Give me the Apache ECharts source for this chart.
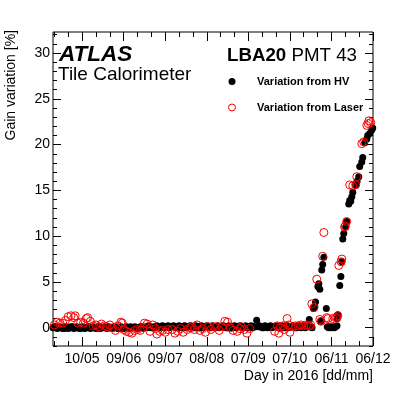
<!DOCTYPE html>
<html>
<head>
    <meta charset="utf-8">
    <title>ECharts</title>
    <script src="https://cdn.jsdelivr.net/npm/echarts@6/dist/echarts.min.js"></script>
</head>
<body style="margin:0">
<div id="main" style="width: 411px;height:394px;"></div>
<script type="text/javascript">
    // x = day of year 2016 (10/05 -> 131)
    var xTickDays = [131, 161, 191, 221, 251, 281, 311, 341];
    var xTickLabels = ['10/05', '09/06', '09/07', '08/08', '07/09', '07/10', '06/11', '06/12'];
    var yTickValues = [0, 5, 10, 15, 20, 25, 30];

    // gain variation from HV [%]
    var hvPoints = [
        [110,0.0],[111,0.1],[112,0.1],[113,-0.1],[114,0.0],[115,0.1],[116,0.0],[117,-0.1],[118,-0.1],[119,0.1],
        [120,0.0],[121,-0.1],[122,0.0],[123,0.1],[124,0.1],[125,-0.1],[126,0.0],[127,0.1],[128,0.0],[129,-0.1],
        [130,-0.1],[131,0.1],[132,0.0],[133,-0.1],[134,0.0],[135,0.1],[136,0.1],[137,-0.1],[138,0.0],[139,0.1],
        [140,0.0],[141,-0.1],[142,0.0],[143,0.1],[144,-0.1],[145,0.0],[146,0.0],[147,0.1],[148,0.0],[149,-0.1],
        [150,0.1],[151,0.0],[152,0.0],[153,-0.1],[154,0.0],[155,0.1],[156,0.0],[157,-0.1],[158,-0.1],[159,0.1],
        [160,0.0],[161,-0.1],[162,0.0],[163,0.1],[164,0.0],[165,-0.1],[166,0.1],[167,0.0],[168,0.0],[169,0.1],
        [170,0.0],[171,-0.1],[172,0.0],[173,0.1],[174,0.1],[175,0.0],[176,0.0],[177,0.1],[178,0.0],[179,0.2],
        [180,0.1],[181,0.0],[182,0.0],[183,0.1],[184,0.0],[185,0.2],[186,0.1],[187,0.0],[188,0.1],[189,0.2],
        [190,0.0],[191,0.1],[192,0.1],[193,0.2],[194,0.0],[195,0.1],[196,0.1],[197,0.2],[198,0.1],[199,0.0],
        [200,0.0],[201,0.2],[202,0.1],[203,0.0],[204,0.1],[205,0.2],[206,0.0],[207,0.1],[208,0.1],[209,0.2],
        [210,0.1],[211,0.0],[212,0.0],[213,0.2],[214,0.1],[215,0.0],[216,0.1],[217,0.2],[218,0.0],[219,0.1],
        [220,0.1],[221,0.2],[222,0.1],[223,0.0],[224,0.0],[225,0.2],[226,0.1],[227,0.0],[228,0.1],[229,0.2],
        [230,0.0],[231,0.1],[232,0.1],[233,0.2],[234,0.1],[235,0.0],[236,0.0],[237,0.2],[238,0.1],[239,0.0],
        [240,0.1],[241,0.2],[242,0.0],[243,0.1],[244,0.1],[245,0.2],[246,0.1],[247,0.0],[248,0.0],[249,0.2],
        [250,0.1],[251,0.0],[252,0.1],[253,0.2],[254,0.0],[255,0.1],[256,0.1],[257,0.8],[258,0.1],[259,0.2],
        [260,0.1],[261,0.0],[262,0.0],[263,0.2],[264,0.1],[265,0.0],[266,0.1],[267,0.2],[268,0.0],[269,0.1],
        [270,0.1],[271,0.2],[272,0.1],[273,0.0],[274,0.0],[275,0.2],[276,0.1],[277,0.0],[278,0.1],[279,0.2],
        [280,0.0],[281,0.1],[282,0.1],[283,0.2],[284,0.1],[285,0.0],[286,0.0],[287,0.2],[288,0.1],[289,0.0],
        [290,0.1],[291,0.2],[292,0.0],[293,0.1],[294,0.1],[295,0.9],[296,0.1],[297,0.0],
        [298,2.1],[299,2.3],[299.5,2.8],
        [301.2,4.5],[301.9,4.8],[302.6,4.2],[303.3,0.7],[304,6.3],[304.7,6.9],[305.5,7.7],[307.3,2.1],
        [308,0.1],[309,0.0],[310,0.1],[311,0.0],[312,0.1],[313,0.0],[314,0.1],[315,0.2],[315.2,1.0],[315.6,1.4],
        [317,4.6],[317.8,5.6],[318.5,7.2],[319.2,9.7],[319.9,10.3],[321.3,11.0],[322,11.6],[323.5,13.5],
        [324.2,13.9],[324.9,13.8],[325.7,14.3],[326.4,14.8],[328.5,15.6],[329.5,16.0],[330.7,16.5],[331.4,17.6],
        [332.9,18.1],[333.6,18.6],[335,20.2],[336.5,20.6],[337.2,21.0],[338.6,21.2],[340.1,21.6],[340.8,21.8]
    ];

    // gain variation from Laser [%]
    var laserPoints = [
        [111,0.3],[113,0.6],[115,0.5],[117,0.5],[119,0.8],[121,1.2],[123,1.3],[125,1.1],[126,1.3],[128,0.5],
        [130,0.6],[132,0.5],[134,1.0],[135,1.1],[137,0.7],[139,0.2],[141,0.3],[143,0.1],[145,0.4],[147,0.2],
        [149,0.1],[151,0.3],[153,0.0],[155,-0.3],[157,0.2],[159,0.6],[160,0.5],[161,-0.2],[163,-0.4],[165,-0.5],
        [167,-0.6],[169,-0.3],[171,-0.2],[173,-0.3],[175,0.0],[176,0.5],[178,0.4],[180,-0.4],[182,0.3],[184,-0.1],
        [185,-0.7],[187,-0.4],[189,-0.3],[191,-0.5],[193,-0.2],[196,-0.2],[198,-0.6],[200,-0.4],[202,-0.1],[204,-0.5],
        [207,-0.2],[209,0.0],[210,0.1],[212,-0.2],[214,0.3],[216,-0.3],[218,-0.1],[220,-0.5],[222,0.1],[224,-0.2],
        [226,0.1],[228,0.1],[230,-0.3],[232,0.1],[234,0.7],[236,0.6],[238,0.0],[240,-0.3],[243,-0.4],[245,-0.1],
        [246,0.1],[248,-0.2],[250,-0.6],[252,-0.1],
        [270,-0.4],[272,0.2],[273,-0.6],[274,0.0],[276,0.2],[277,-0.2],[279,1.0],[280,0.3],[281,-0.5],[283,0.1],
        [285,0.2],[287,0.2],[289,0.3],[291,0.2],[293,0.3],[295,0.2],[296,0.3],
        [296.8,2.6],[298.3,2.2],[300.4,5.3],[302.6,0.9],[303.5,0.7],[304.7,7.8],[305.5,10.4],[307.6,1.1],
        [308.5,1.0],[312,1.0],[314,1.1],[314.9,1.1],[315.6,1.3],[316.3,6.8],[318,7.2],[318.5,7.5],
        [320.5,11.0],[321,11.1],[322,11.6],[324.2,15.6],[326.4,15.5],[328.5,15.6],[329.3,16.5],
        [332.9,20.1],[334.3,20.3],[336.5,22.1],[337.5,22.3],[338,22.6],[339.4,22.4]
    ];

    var xMinorTicks = [];
    for (var d = 111; d <= 341; d += 10) xMinorTicks.push(d);
    var yMinorTicks = [];
    for (var v = -2; v <= 32; v++) yMinorTicks.push(v);

    var FONT = 'Liberation Sans, Arial, Helvetica, sans-serif';

    function xAxisOf(pos, ticks, len, withLabels) {
        return {
            type: 'value', position: pos, min: 110, max: 341,
            axisLine: {show: false, onZero: false}, splitLine: {show: false},
            axisTick: {inside: true, length: len, customValues: ticks, lineStyle: {color: '#000'}},
            axisLabel: withLabels ? {
                customValues: xTickDays, margin: 6, fontSize: 14, color: '#000', fontFamily: FONT,
                formatter: function (val) {
                    var i = xTickDays.indexOf(val);
                    return i >= 0 ? xTickLabels[i] : '';
                }
            } : {show: false}
        };
    }
    function yAxisOf(pos, ticks, len, withLabels) {
        return {
            type: 'value', position: pos, min: -2, max: 32.3,
            axisLine: {show: false, onZero: false}, splitLine: {show: false},
            axisTick: {inside: true, length: len, customValues: ticks, lineStyle: {color: '#000'}},
            axisLabel: withLabels ? {
                customValues: yTickValues, margin: 3, fontSize: 14, color: '#000', fontFamily: FONT
            } : {show: false}
        };
    }

    var myChart = echarts.init(document.getElementById('main'));

    var option = {
        animation: false,
        backgroundColor: '#fff',
        grid: {left: 53, right: 38, top: 32, bottom: 48, show: true, borderColor: '#000', borderWidth: 1,
            outerBoundsMode: 'none'},
        xAxis: [
            xAxisOf('bottom', xTickDays, 9, true),
            xAxisOf('bottom', xMinorTicks, 5, false),
            xAxisOf('top', xTickDays, 9, false),
            xAxisOf('top', xMinorTicks, 5, false)
        ],
        yAxis: [
            yAxisOf('left', yTickValues, 8, true),
            yAxisOf('left', yMinorTicks, 4, false),
            yAxisOf('right', yTickValues, 8, false),
            yAxisOf('right', yMinorTicks, 4, false)
        ],
        legend: {
            orient: 'vertical', left: 228, top: 76, padding: 0,
            itemWidth: 40, itemHeight: 7, itemGap: 15, selectedMode: false,
            textStyle: {fontSize: 11, fontWeight: 'bold', color: '#000', fontFamily: FONT},
            data: [
                {name: 'Variation from HV', icon: 'circle', itemStyle: {color: '#000', borderWidth: 0}},
                {name: 'Variation from Laser', icon: 'circle',
                    itemStyle: {color: 'transparent', borderColor: '#ff0000', borderWidth: 1}}
            ]
        },
        graphic: [
            {type: 'text', x: 59, y: 55, style: {text: 'ATLAS', fill: '#000',
                font: 'italic bold 22.5px ' + FONT, verticalAlign: 'middle'}},
            {type: 'text', x: 58, y: 75, style: {text: 'Tile Calorimeter', fill: '#000',
                font: '19px ' + FONT, verticalAlign: 'middle'}},
            {type: 'text', x: 227, y: 56, style: {text: 'LBA20', fill: '#000',
                font: 'bold 18.7px ' + FONT, verticalAlign: 'middle'}},
            {type: 'text', x: 291.5, y: 56, style: {text: 'PMT 43', fill: '#000',
                font: '18.7px ' + FONT, verticalAlign: 'middle'}},
            {type: 'text', x: 373, y: 376, style: {text: 'Day in 2016 [dd/mm]', fill: '#000',
                font: '14px ' + FONT, align: 'right', verticalAlign: 'middle'}},
            {type: 'text', x: 11.5, y: 30, rotation: Math.PI / 2, style: {text: 'Gain variation [%]', fill: '#000',
                font: '14px ' + FONT, align: 'right', verticalAlign: 'middle'}}
        ],
        series: [
            {
                name: 'Variation from HV', type: 'scatter', data: hvPoints,
                symbol: 'circle', symbolSize: 7,
                itemStyle: {color: '#000', opacity: 1},
                emphasis: {disabled: true}
            },
            {
                name: 'Variation from Laser', type: 'scatter', data: laserPoints,
                symbol: 'circle', symbolSize: 8,
                itemStyle: {color: 'transparent', borderColor: '#ff0000', borderWidth: 1, opacity: 1},
                emphasis: {disabled: true}
            }
        ]
    };

    myChart.setOption(option);
</script>
</body>
</html>
